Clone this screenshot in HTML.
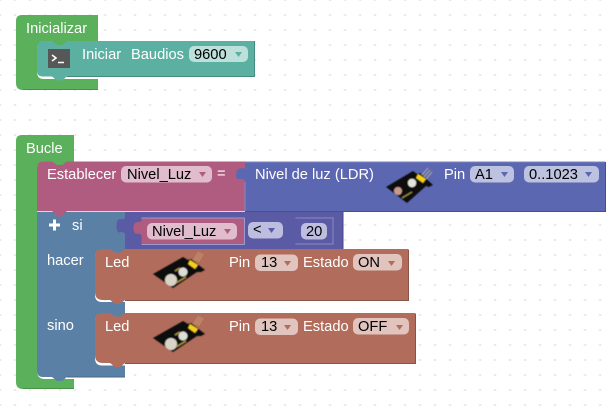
<!DOCTYPE html>
<html><head><meta charset="utf-8">
<style>
html,body{margin:0;padding:0;background:#fff;width:611px;height:409px;overflow:hidden}
svg{display:block}
text{font-family:"Liberation Sans",sans-serif;font-size:14.67px}
.w{fill:#fff}
.k{fill:#000}
</style></head>
<body>
<svg width="611" height="409" viewBox="0 0 611 409" xmlns="http://www.w3.org/2000/svg">
<defs>
<pattern id="grid" width="15" height="15" patternUnits="userSpaceOnUse" x="-0.5" y="-1">
<path d="M0 1H2M1 0V2" stroke="#e8e8e8" stroke-width="1"/>
<path d="M14 1H16M15 0V2" stroke="#e8e8e8" stroke-width="1"/>
</pattern>
<filter id="soft" x="-10%" y="-10%" width="120%" height="120%"><feGaussianBlur stdDeviation="0.55"/></filter>
<g id="ledimg" filter="url(#soft)">
<path d="M196 261L201 253M198 262L203 254M194 260L199 252" stroke="#c9a878" stroke-width="0.8" fill="none"/>
<path d="M153 274L183 257L188 260L191 259L205 270L201 272L197 272L173 288Z" fill="#111"/>
<path d="M190 260L198 265L195 269L188 264Z" fill="#f4d01c"/>
<circle cx="183" cy="272" r="4.500" fill="#deded8"/>
<circle cx="171" cy="280" r="6" fill="#d8d4c8"/>
<path d="M175 271L180 268M176 283L186 277" stroke="#a9953a" stroke-width="1.500"/>
</g>
</defs>
<rect width="611" height="409" fill="#fff"/>
<rect width="611" height="409" fill="url(#grid)"/>

<!-- Inicializar -->
<path d="M16 21Q16 15 22 15H98V46H37V72Q37 79 44 79H98V90H23Q16 90 16 83Z" fill="#5bb05b"/>
<path d="M98 89.500H23" stroke="#479147" fill="none"/>
<path d="M37 48Q37 41 44 41H52L57 45H62L67 41H254V76.500H67L62 80.500H57L52 76.500H43Q37 76.500 37 71Z" fill="#5bb0a2"/>
<path d="M67 76.500H254.500V41" stroke="#478b80" fill="none"/>
<rect x="48" y="49" width="22" height="19" fill="#575757"/>
<path d="M52 55L56 58L52 61" stroke="#fff" stroke-width="1.600" fill="none"/>
<path d="M58 62.500H64" stroke="#fff" stroke-width="1.500"/>
<text x="82" y="59" class="w">Iniciar</text><text x="131" y="59" class="w">Baudios</text>
<rect x="189" y="46" width="59" height="16" rx="5" fill="#bde0da"/>
<text x="194" y="59" class="k">9600</text>
<path d="M235 52H242L238.500 57Z" fill="#5bb0a2"/>

<!-- Bucle -->
<path d="M16 141Q16 135 22 135H74V166H37V371Q37 379 45 379H74V389H23Q16 389 16 382Z" fill="#5bb05b"/>
<path d="M74 388.500H23" stroke="#479147" fill="none"/>
<text x="26" y="153" class="w">Bucle</text>
<text x="26" y="33" class="w">Inicializar</text>

<!-- si block (blue) -->
<path d="M37 212H125V254H95V295Q95 302 102 302H125V318H95V358Q95 365.500 102 365.500H125V377H67L62 381H57L52 377H43Q37 377 37 371Z" fill="#5b80a5"/>
<path d="M67 377H125" stroke="#47678a" fill="none"/>

<!-- Establecer -->
<path d="M37 168Q37 161.500 44 161.500H52L57 165H62L67 161.500H245V211H67L62 216.500H57L52 211H37Z" fill="#b05b80"/>
<path d="M37 211.500H52M67 211.500H245" stroke="#e8d0da" fill="none"/>
<text x="47" y="179" class="w">Establecer</text>
<rect x="121" y="166" width="91" height="16.500" rx="5" fill="#e0bccc"/>
<text x="127" y="179" class="k">Nivel_Luz</text>
<path d="M199 172H206L202.500 177Z" fill="#b05b80"/>
<text x="217" y="178" class="w">=</text>

<!-- Nivel de luz -->
<path d="M245 161.500H605V211H245V181Q243 178 240 179Q236 180 236 175Q236 169 240 168Q244 169 245 168Z" fill="#5b67b0"/>
<path d="M245 211.500H605.500V162" stroke="#47508a" fill="none"/>
<path d="M245 162H605" stroke="#7a85c0" fill="none"/>
<path d="M245 182V211" stroke="#8089c4" fill="none"/>
<text x="255" y="179" class="w">Nivel de luz (LDR)</text>
<g filter="url(#soft)">
<path d="M422 175L428 168M424 177L430 170M426 179L432 172" stroke="#c9c0a0" stroke-width="0.8" fill="none"/>
<path d="M386 187L413 171L417 174L420 173L433 185L429 187L426 186L407 203Z" fill="#111"/>
<path d="M418 174L426 179L423 183L416 178Z" fill="#f4d01c"/>
<circle cx="412" cy="183" r="4.200" fill="#e4e4de"/>
<circle cx="398" cy="191" r="4" fill="#c79a90"/>
<path d="M402 198L412 192" stroke="#a4933a" stroke-width="1.300"/>
</g>
<text x="444" y="179" class="w">Pin</text>
<rect x="470" y="166" width="44" height="16.500" rx="5" fill="#bdc2e0"/>
<text x="475" y="179" class="k">A1</text>
<path d="M501 172H508L504.500 177Z" fill="#5b67b0"/>
<rect x="524" y="166" width="75" height="16.500" rx="5" fill="#bdc2e0"/>
<text x="529" y="179" class="k">0..1023</text>
<path d="M585 172H592L588.500 177Z" fill="#5b67b0"/>

<!-- si row -->
<path d="M49 225H60M54.500 219.500V230.500" stroke="#fff" stroke-width="3"/>
<text x="72" y="230" class="w">si</text>
<text x="47" y="265" class="w">hacer</text>
<text x="47" y="330" class="w">sino</text>

<!-- comparison block -->
<path d="M125 212H343V249H125V234Q123 231 120 232.500Q116.500 233 116.500 226Q116.500 219 120 219Q123 220 125 218Z" fill="#5b5ba5"/>
<path d="M125 249.500H343V212" stroke="#47478a" fill="none"/>
<path d="M141.500 218H244V244H141.500V235Q139 233 137 234Q133.500 233.500 133.500 228Q133.500 222.500 137 222Q139 222.500 141.500 221Z" fill="#b05b80"/>
<path d="M141.500 218H244.500V244.500H141.500" stroke="#9a9ad0" fill="none"/>
<rect x="147" y="223" width="90" height="16.500" rx="5" fill="#e0bccc"/>
<text x="152" y="236" class="k">Nivel_Luz</text>
<path d="M224 229H231L227.500 234Z" fill="#b05b80"/>
<rect x="248" y="222" width="35" height="16.500" rx="5" fill="#bdbde0"/>
<text x="253" y="234" class="k">&lt;</text>
<path d="M268 228H275L271.500 233Z" fill="#5b5ba5"/>
<path d="M295.500 218H333V244H295.500V235Q293 233 291 234Q287.500 233.500 287.500 228Q287.500 222.500 291 222Q293 222.500 295.500 221Z" fill="#5b5ba5"/>
<path d="M295.500 218H333V244H295.500" stroke="#8a8ac4" fill="none"/>
<rect x="301" y="223" width="26" height="16.500" rx="5" fill="#bdbde0"/>
<text x="306" y="236" class="k">20</text>

<!-- Led 1 -->
<path d="M95 256Q95 249 102 249H110L115 252.500H120L125 249H408V300H125L120 304H115L110 300H103Q95 300 95 292Z" fill="#b16c5b"/>
<path d="M125 300.500H408.500V249.500" stroke="#8a5445" fill="none"/>
<text x="105" y="267" class="w">Led</text>
<use href="#ledimg"/>
<text x="229" y="267" class="w">Pin</text>
<rect x="255" y="254.500" width="43" height="16.500" rx="5" fill="#e0c4bd"/>
<text x="261" y="267" class="k">13</text>
<path d="M284 261H291L287.500 266Z" fill="#b16c5b"/>
<text x="303" y="267" class="w">Estado</text>
<rect x="353" y="254" width="49" height="16.500" rx="5" fill="#e0c4bd"/>
<text x="358" y="267" class="k">ON</text>
<path d="M388 261H395L391.500 266Z" fill="#b16c5b"/>

<!-- Led 2 -->
<path d="M95 320Q95 313 102 313H110L115 316.500H120L125 313H415V363H125L120 367H115L110 363H103Q95 363 95 355Z" fill="#b16c5b"/>
<path d="M125 363.500H415.500V313.500" stroke="#8a5445" fill="none"/>
<text x="105" y="331" class="w">Led</text>
<use href="#ledimg" transform="translate(0,64)"/>
<text x="229" y="331" class="w">Pin</text>
<rect x="255" y="318.500" width="43" height="16.500" rx="5" fill="#e0c4bd"/>
<text x="261" y="331" class="k">13</text>
<path d="M284 325H291L287.500 330Z" fill="#b16c5b"/>
<text x="303" y="331" class="w">Estado</text>
<rect x="353" y="318" width="56" height="16.500" rx="5" fill="#e0c4bd"/>
<text x="358" y="331" class="k">OFF</text>
<path d="M396 325H403L399.500 330Z" fill="#b16c5b"/>
</svg>
</body></html>
